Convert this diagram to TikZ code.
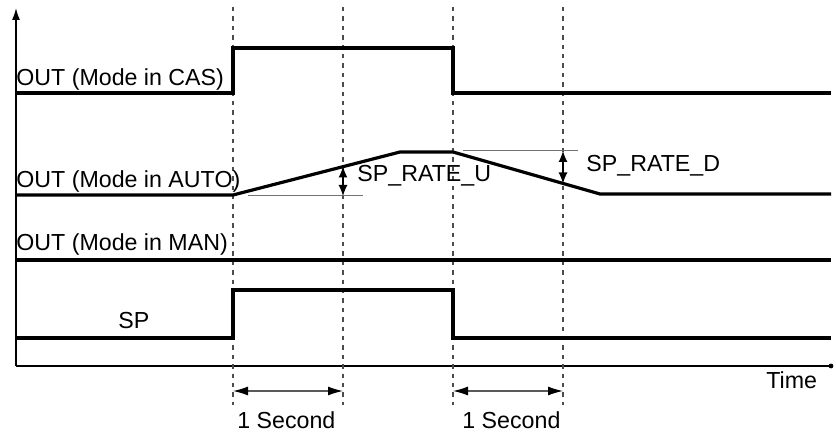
\documentclass[tikz,border=0pt]{standalone}
\usepackage{fontspec}
\setmainfont{Liberation Sans}
\usetikzlibrary{arrows.meta, calc}

\tikzset{
    signal/.style={line width=1.6pt, line join=miter},
    axis/.style={line width=0.8pt},
    marker/.style={line width=0.55pt, draw=black!70, dash pattern=on 2.2pt off 2.5pt},
    guide/.style={line width=0.5pt, draw=black!55},
    span/.style={line width=0.6pt, draw=black!65, {Latex[length=7.5pt,width=4.5pt,color=black]}-{Latex[length=7.5pt,width=4.5pt,color=black]}},
    rate/.style={line width=0.6pt, {Latex[length=5.5pt,width=4.5pt]}-{Latex[length=5.5pt,width=4.5pt]}},
    lbl/.style={inner sep=0pt, anchor=base west, font=\fontsize{11.6}{13}\selectfont}
}

\begin{document}
\begin{tikzpicture}[x=0.5pt, y=-0.5pt]
            \useasboundingbox (0,0) rectangle (836,433);

            % axes
            \draw[axis, -{Latex[length=6pt,width=4pt]}] (16,366) -- (16,8);
            \draw[axis] (16,366) -- (831,366);
            \fill (831,366) circle (1.2pt);

            % time markers
            \foreach \t in {233,343,453,563} {
                \draw[marker] (\t,7) -- (\t,405);
            }

            % OUT in CAS
            \draw[signal] (16,93) -- (233,93) -- (233,48) -- (453,48) -- (453,93) -- (831,93);
            % OUT in AUTO, ramps up and down
            \draw[signal] (16,195) -- (233,195) -- (400,152) -- (453,152) -- (600,194) -- (831,194);
            % OUT in MAN
            \draw[signal] (16,260) -- (831,260);
            % SP
            \draw[signal] (16,338) -- (233,338) -- (233,290) -- (453,290) -- (453,338) -- (831,338);

            % rate guides
            \draw[guide] (248,196) -- (363,196);
            \draw[guide] (463,151) -- (578,151);
            \coordinate (ru) at (343,166.5);
            \coordinate (rd) at (563,183.5);
            \draw[rate] (ru) -- (343,196);
            \draw[rate] (563,151) -- (rd);

            % one second spans
            \draw[span] (233,391) -- (343,391);
            \draw[span] (453,391) -- (563,391);

            \node[lbl] (cas) at (16,86) {OUT (Mode in CAS)};
            \node[lbl] (auto) at (16,188) {OUT (Mode in AUTO)};
            \node[lbl] (man) at (16,250) {OUT (Mode in MAN)};
            \node[lbl] (sp) at (118,328) {SP};
            \node[lbl] (rateu) at (357,182) {SP\_RATE\_U};
            \node[lbl] (rated) at (586,172) {SP\_RATE\_D};
            \node[lbl] (time) at (766,388) {Time};
            \node[lbl] (seca) at (237,428) {1 Second};
            \node[lbl] (secb) at (462,428) {1 Second};
        \end{tikzpicture}
\end{document}
